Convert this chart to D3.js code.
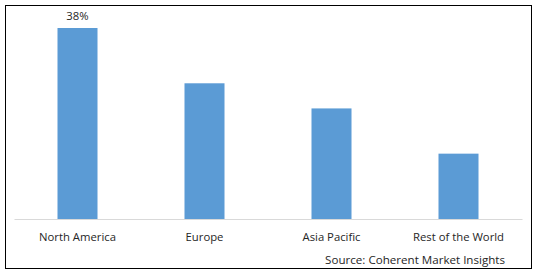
<!DOCTYPE html>
<html>
<head>
<meta charset="utf-8">
<script src="https://cdn.jsdelivr.net/npm/d3@7"></script>
<style>
  body { margin: 0; background: #fff; }
  text { font-family: "Open Sans", sans-serif; fill: #262626; }
</style>
</head>
<body>
<svg width="538" height="272"></svg>
<script>
const regions = ["North America", "Europe", "Asia Pacific", "Rest of the World"];
const shares = [38, 27, 22, 13];
const labelled = ["North America"];

const svg = d3.select("svg");

// outer frame
svg.append("rect")
    .attr("x", 5.5).attr("y", 5.5)
    .attr("width", 526).attr("height", 263)
    .attr("fill", "none")
    .attr("stroke", "#000")
    .attr("stroke-width", 1);

const margin = {top: 28, left: 14, right: 16, bottom: 53};
const width = 538 - margin.left - margin.right;
const height = 272 - margin.top - margin.bottom;

const g = svg.append("g").attr("transform", "translate(" + margin.left + "," + margin.top + ")");

let x = d3.scaleBand().domain(regions).range([0, width]).paddingInner(0.685).paddingOuter(0.3425);
let y = d3.scaleLinear().domain([0, d3.max(shares)]).range([height, 0]);

const data = d3.zip(regions, shares);

g.selectAll(".bar")
    .data(data)
    .enter().append("rect")
    .attr("class", "bar")
    .attr("fill", "#5b9bd5")
    .attr("x", d => x(d[0]))
    .attr("width", x.bandwidth())
    .attr("y", d => y(d[1]))
    .attr("height", d => height - y(d[1]));

// value label only on the first bar
g.selectAll(".val")
    .data(data.filter(d => labelled.includes(d[0])))
    .enter().append("text")
    .attr("class", "val")
    .attr("x", d => x(d[0]) + x.bandwidth() / 2)
    .attr("y", d => y(d[1]) - 8)
    .attr("text-anchor", "middle")
    .attr("font-size", 11.3)
    .text(d => d[1] + "%");

// x axis
const xAxis = g.append("g")
    .attr("transform", "translate(0," + height + ")")
    .call(d3.axisBottom(x).tickSize(0).tickPadding(14));
xAxis.select(".domain").attr("stroke", "#d9d9d9");
xAxis.selectAll("text")
    .attr("font-size", 11.3)
    .style("font-family", "\"Open Sans\", sans-serif")
    .attr("fill", "#262626");

svg.append("text")
    .attr("x", 505)
    .attr("y", 264)
    .attr("text-anchor", "end")
    .attr("font-size", 11.6)
    .text("Source: Coherent Market Insights");
</script>
</body>
</html>
